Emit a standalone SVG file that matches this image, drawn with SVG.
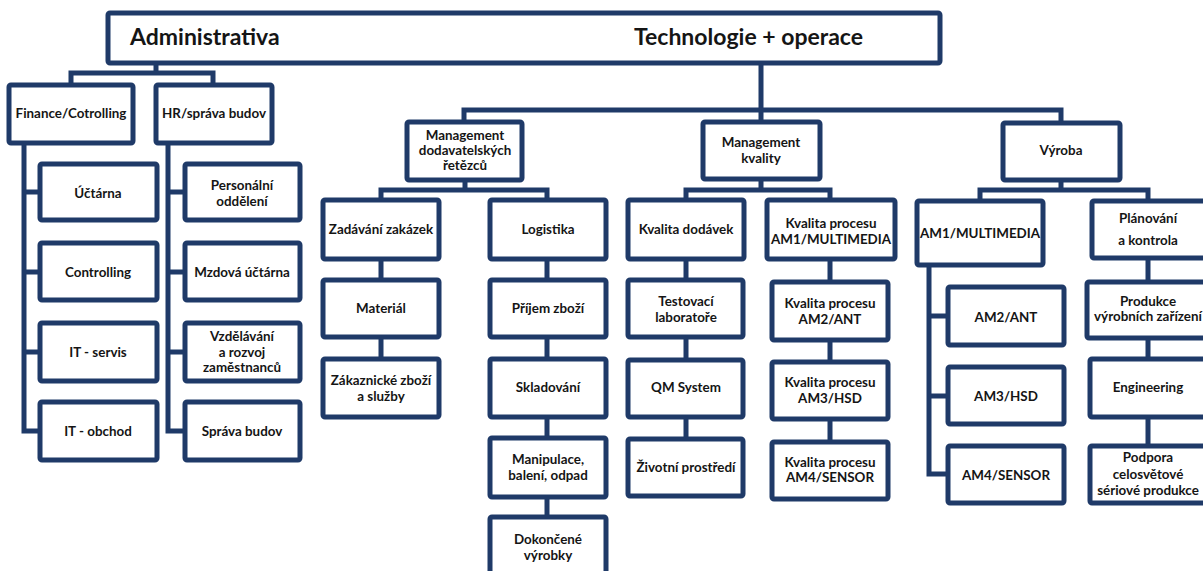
<svg xmlns="http://www.w3.org/2000/svg" width="1203" height="571" viewBox="0 0 1203 571">
<style>
  .b{fill:#fff;stroke:#1F3A68;stroke-width:5}
  .c{fill:none;stroke:#1F3A68;stroke-width:5;stroke-linecap:square}
  .t{font-family:Lato,"Open Sans",sans-serif;font-weight:700;font-size:13.4px;fill:#151515;text-anchor:middle;dominant-baseline:central}
  .h{font-family:Lato,"Open Sans",sans-serif;font-weight:700;font-size:23px;fill:#151515}
</style>
<rect width="1203" height="571" fill="#fff"/>
<g id="connectors">
  <path class="c" d="M156 63V73M71 73H213M71 73V85M213 73V85"/>
  <path class="c" d="M24 143V431M24 192H40M24 272H40M24 352H40M24 431H40"/>
  <path class="c" d="M168 143V431M168 192H185M168 272H185M168 352H185M168 431H185"/>
  <path class="c" d="M761 63V110M464 110H1061M464 110V122M761 110V122M1061 110V123"/>
  <path class="c" d="M465 180V190M381 190H547M381 190V200M547 190V200"/>
  <path class="c" d="M381 259V280M381 337V359"/>
  <path class="c" d="M547 259V280M547 337V359M547 417V438M547 497V517"/>
  <path class="c" d="M761 179V190M686 190H830M686 190V200M830 190V200"/>
  <path class="c" d="M686 259V280M686 337V360M686 417V439"/>
  <path class="c" d="M830 259V282M830 340V362M830 419V442"/>
  <path class="c" d="M1061 180V190M980 190H1148M980 190V201M1148 190V201"/>
  <path class="c" d="M929 265V474M929 316H948M929 396H948M929 474H948"/>
  <path class="c" d="M1148 258V282M1148 338V359M1148 417V446"/>
</g>
<g id="root"><rect class="b" x="108" y="13" width="832" height="50" rx="2"/>
  <text class="h" x="130" y="45">Administrativa</text>
  <text class="h" x="634" y="45">Technologie + operace</text></g>
<g id="finance"><rect class="b" x="9" y="85" width="124" height="58" rx="2"/><text class="t" x="71" y="113">Finance/Cotrolling</text></g>
<g id="hr"><rect class="b" x="156" y="85" width="116" height="58" rx="2"/><text class="t" x="214" y="113">HR/správa budov</text></g>
<g id="uctarna"><rect class="b" x="40" y="164" width="117" height="56" rx="2"/><text class="t" x="98" y="193">Účtárna</text></g>
<g id="controlling"><rect class="b" x="40" y="243" width="117" height="57" rx="2"/><text class="t" x="98" y="272">Controlling</text></g>
<g id="itservis"><rect class="b" x="40" y="323" width="117" height="58" rx="2"/><text class="t" x="98" y="352">IT - servis</text></g>
<g id="itobchod"><rect class="b" x="40" y="402" width="117" height="58" rx="2"/><text class="t" x="98" y="431">IT - obchod</text></g>
<g id="personalni"><rect class="b" x="185" y="164" width="115" height="56" rx="2"/><text class="t" x="242" y="185">Personální</text><text class="t" x="242" y="201">oddělení</text></g>
<g id="mzdova"><rect class="b" x="185" y="243" width="115" height="57" rx="2"/><text class="t" x="242" y="272">Mzdová účtárna</text></g>
<g id="vzdelavani"><rect class="b" x="185" y="323" width="115" height="58" rx="2"/><text class="t" x="242" y="336">Vzdělávání</text><text class="t" x="242" y="352">a rozvoj</text><text class="t" x="242" y="367">zaměstnanců</text></g>
<g id="sprava"><rect class="b" x="185" y="402" width="115" height="58" rx="2"/><text class="t" x="242" y="431">Správa budov</text></g>
<g id="mgmt-dodav"><rect class="b" x="407" y="122" width="115" height="58" rx="2"/><text class="t" x="465" y="135">Management</text><text class="t" x="465" y="150">dodavatelských</text><text class="t" x="465" y="165">řetězců</text></g>
<g id="mgmt-kvality"><rect class="b" x="703" y="122" width="117" height="57" rx="2"/><text class="t" x="761" y="142">Management</text><text class="t" x="761" y="158">kvality</text></g>
<g id="vyroba"><rect class="b" x="1003" y="123" width="117" height="57" rx="2"/><text class="t" x="1061" y="150">Výroba</text></g>
<g id="zadavani"><rect class="b" x="323" y="200" width="116" height="59" rx="2"/><text class="t" x="381" y="229">Zadávání zakázek</text></g>
<g id="logistika"><rect class="b" x="490" y="200" width="116" height="59" rx="2"/><text class="t" x="548" y="229">Logistika</text></g>
<g id="material"><rect class="b" x="323" y="280" width="116" height="57" rx="2"/><text class="t" x="381" y="308">Materiál</text></g>
<g id="zakaznicke"><rect class="b" x="323" y="359" width="116" height="58" rx="2"/><text class="t" x="381" y="380">Zákaznické zboží</text><text class="t" x="381" y="396">a služby</text></g>
<g id="prijem"><rect class="b" x="490" y="280" width="116" height="57" rx="2"/><text class="t" x="548" y="308">Příjem zboží</text></g>
<g id="skladovani"><rect class="b" x="490" y="359" width="116" height="58" rx="2"/><text class="t" x="548" y="387">Skladování</text></g>
<g id="manipulace"><rect class="b" x="490" y="438" width="116" height="59" rx="2"/><text class="t" x="548" y="459">Manipulace,</text><text class="t" x="548" y="475">balení, odpad</text></g>
<g id="dokoncene"><rect class="b" x="490" y="517" width="116" height="62" rx="2"/><text class="t" x="548" y="539">Dokončené</text><text class="t" x="548" y="555">výrobky</text></g>
<g id="kvalita-dodavek"><rect class="b" x="628" y="200" width="116" height="59" rx="2"/><text class="t" x="686" y="229">Kvalita dodávek</text></g>
<g id="testovaci"><rect class="b" x="628" y="280" width="115" height="57" rx="2"/><text class="t" x="686" y="301">Testovací</text><text class="t" x="686" y="317">laboratoře</text></g>
<g id="qm"><rect class="b" x="628" y="360" width="115" height="57" rx="2"/><text class="t" x="686" y="387">QM System</text></g>
<g id="zivotni"><rect class="b" x="628" y="439" width="115" height="57" rx="2"/><text class="t" x="686" y="467">Životní prostředí</text></g>
<g id="kp-am1"><rect class="b" x="767" y="200" width="128" height="59" rx="2"/><text class="t" x="831" y="223">Kvalita procesu</text><text class="t" x="831" y="239">AM1/MULTIMEDIA</text></g>
<g id="kp-am2"><rect class="b" x="772" y="282" width="116" height="58" rx="2"/><text class="t" x="830" y="303">Kvalita procesu</text><text class="t" x="830" y="319">AM2/ANT</text></g>
<g id="kp-am3"><rect class="b" x="772" y="362" width="116" height="57" rx="2"/><text class="t" x="830" y="382">Kvalita procesu</text><text class="t" x="830" y="398">AM3/HSD</text></g>
<g id="kp-am4"><rect class="b" x="772" y="442" width="116" height="57" rx="2"/><text class="t" x="830" y="462">Kvalita procesu</text><text class="t" x="830" y="477">AM4/SENSOR</text></g>
<g id="am1"><rect class="b" x="917" y="201" width="126" height="64" rx="2"/><text class="t" x="980" y="233">AM1/MULTIMEDIA</text></g>
<g id="am2"><rect class="b" x="948" y="287" width="116" height="58" rx="2"/><text class="t" x="1006" y="317">AM2/ANT</text></g>
<g id="am3"><rect class="b" x="948" y="367" width="116" height="57" rx="2"/><text class="t" x="1006" y="396">AM3/HSD</text></g>
<g id="am4"><rect class="b" x="948" y="446" width="116" height="57" rx="2"/><text class="t" x="1006" y="475">AM4/SENSOR</text></g>
<g id="planovani"><rect class="b" x="1092" y="201" width="114" height="57" rx="2"/><text class="t" x="1148" y="218">Plánování</text><text class="t" x="1148" y="240">a kontrola</text></g>
<g id="produkce"><rect class="b" x="1087" y="282" width="119" height="56" rx="2"/><text class="t" x="1148" y="301">Produkce</text><text class="t" x="1148" y="316">výrobních zařízení</text></g>
<g id="engineering"><rect class="b" x="1090" y="359" width="116" height="58" rx="2"/><text class="t" x="1148" y="387">Engineering</text></g>
<g id="podpora"><rect class="b" x="1090" y="446" width="116" height="57" rx="2"/><text class="t" x="1148" y="457">Podpora</text><text class="t" x="1148" y="474">celosvětové</text><text class="t" x="1148" y="490">sériové produkce</text></g>
</svg>
